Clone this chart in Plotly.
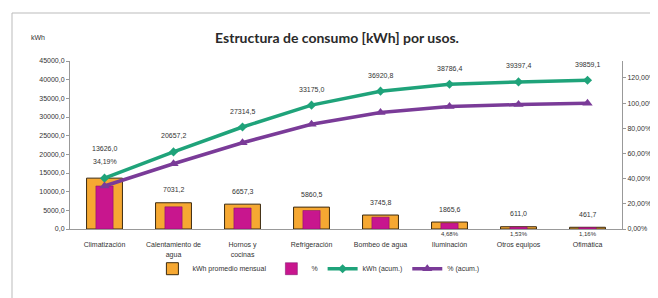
import plotly.graph_objects as go

categories = ["Climatización", "Calentamiento de<br>agua", "Hornos y<br>cocinas", "Refrigeración",
              "Bombeo de agua", "Iluminación", "Otros equipos", "Ofimática"]
kwh = [13626.0, 7031.2, 6657.3, 5860.5, 3745.8, 1865.6, 611.0, 461.7]
pct = [0.3419, 0.1764, 0.1670, 0.1470, 0.0940, 0.0468, 0.0153, 0.0116]
kwh_acum = [13626.0, 20657.2, 27314.5, 33175.0, 36920.8, 38786.4, 39397.4, 39859.1]
pct_acum = [0.3419, 0.5183, 0.6853, 0.8323, 0.9263, 0.9731, 0.9884, 1.0000]
left_ticks = [0, 5000, 10000, 15000, 20000, 25000, 30000, 35000, 40000, 45000]
right_ticks = [0, 0.2, 0.4, 0.6, 0.8, 1.0, 1.2]

def fmt_num(v):
    return f"{v:.1f}".replace(".", ",")

def fmt_pct(v):
    return f"{v*100:.2f}%".replace(".", ",")

fig = go.Figure()
fig.add_trace(go.Bar(x=categories, y=kwh, name="kWh promedio mensual", width=0.52,
                     marker=dict(color="#f6a832", line=dict(color="#3b2a10", width=1)),
                     yaxis="y"))
fig.add_trace(go.Bar(x=categories, y=pct, name="%", width=0.25,
                     marker=dict(color="#c8168e", line=dict(color="#7a0f6a", width=0.5)),
                     yaxis="y2"))
fig.add_trace(go.Scatter(x=categories, y=kwh_acum, name="kWh (acum.)", mode="lines+markers",
                         line=dict(color="#1fa37a", width=3.5),
                         marker=dict(symbol="diamond", size=7, color="#1fa37a"), yaxis="y"))
fig.add_trace(go.Scatter(x=categories, y=pct_acum, name="% (acum.)", mode="lines+markers",
                         line=dict(color="#7a3b98", width=3.5),
                         marker=dict(symbol="triangle-up", size=9, color="#7a3b98"), yaxis="y2"))

ann = []
lab_font = dict(family="Liberation Sans", size=7, color="#333")
for i, c in enumerate(categories):
    ann.append(dict(x=c, y=kwh[i], xref="x", yref="y", text=fmt_num(kwh[i]), showarrow=False,
                    yshift=30 if i == 0 else 13, font=lab_font))
    if i > 0:
        ann.append(dict(x=c, y=kwh_acum[i], xref="x", yref="y", text=fmt_num(kwh_acum[i]),
                        showarrow=False, yshift=16, font=lab_font))
for i in [0]:
    ann.append(dict(x=categories[i], y=kwh[i], xref="x", yref="y", text=fmt_pct(pct[i]),
                    showarrow=False, yshift=17, font=lab_font))
for i in [5, 6, 7]:
    ann.append(dict(x=categories[i], y=0, xref="x", yref="y", text=fmt_pct(pct[i]),
                    showarrow=False, yshift=-5, font=dict(family="Liberation Sans", size=6, color="#333")))
ann.append(dict(x=-0.075, y=1.17, xref="paper", yref="paper", text="kWh", showarrow=False,
                font=lab_font))

fig.update_layout(
    width=658, height=298,
    margin=dict(l=62, r=44, t=53, b=77),
    paper_bgcolor="white", plot_bgcolor="white",
    barmode="overlay",
    separators=",.",
    title=dict(text="<b>Estructura de consumo [kWh] por usos.</b>", x=0.5, xanchor="center",
               y=0.9, yanchor="middle",
               font=dict(family="Lato", size=14, color="#2a2a2a")),
    font=dict(family="Liberation Sans", size=7, color="#333"),
    xaxis=dict(range=[-0.5, 7.5], showline=True, linecolor="#999", linewidth=1,
               ticks="", ticklabelstandoff=9, tickfont=dict(size=7, color="#333"), showgrid=False),
    yaxis=dict(range=[0, 45000], tickvals=left_ticks, tickformat=".1f",
               showline=True, linecolor="#999", ticks="outside", ticklen=3, tickcolor="#999",
               showgrid=False, zeroline=False, tickfont=dict(size=7, color="#333")),
    yaxis2=dict(range=[0, 1.335], tickvals=right_ticks, tickformat=".2%", overlaying="y",
                side="right", showline=True, linecolor="#999", ticks="outside", ticklen=3,
                tickcolor="#999", showgrid=False, zeroline=False,
                tickfont=dict(size=7, color="#333")),
    legend=dict(orientation="h", x=0.45, xanchor="center", y=-0.15, yanchor="top",
                bgcolor="rgba(0,0,0,0)",
                font=dict(size=7, color="#333"), traceorder="normal"),
    annotations=ann,
    shapes=[dict(type="rect", xref="paper", yref="paper",
                 x0=(4 - 62) / 552, x1=(654 - 62) / 552,
                 y0=(221 - 294) / 168, y1=(221 - 5) / 168,
                 line=dict(color="#bbb", width=1))],
)
fig.write_html("out.html")
